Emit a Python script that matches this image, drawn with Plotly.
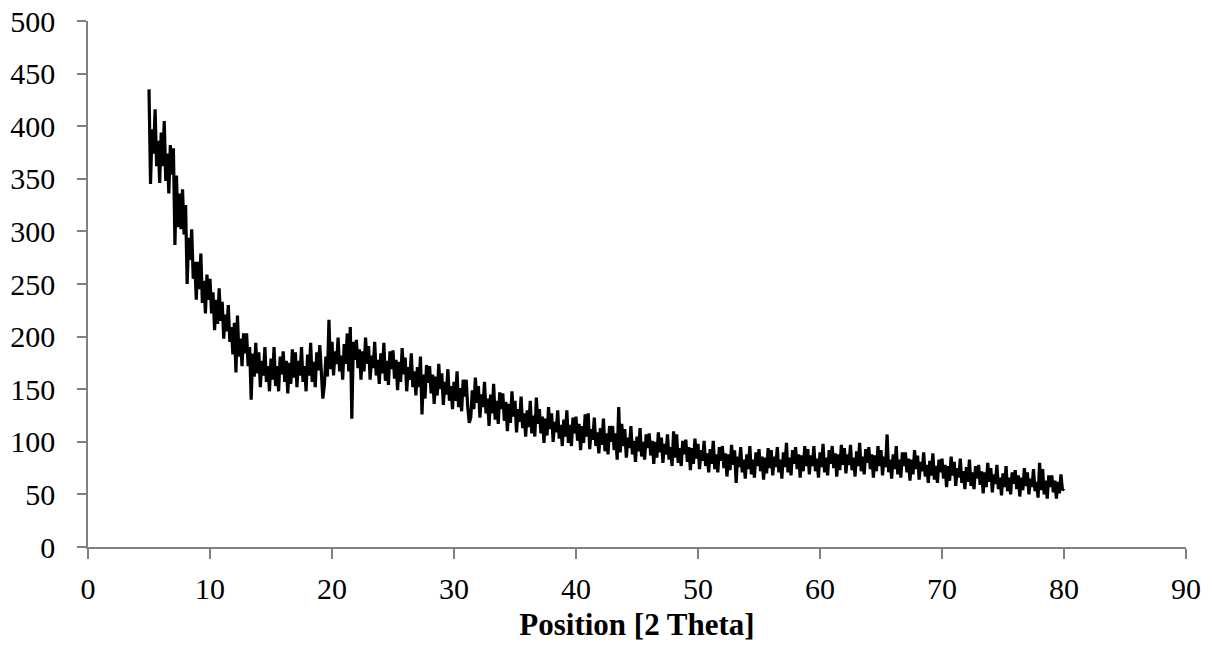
import plotly.graph_objects as go

# 2-theta grid: 5.000 to 80.000 in 0.125 steps
x_start = 5.0
x_step = 0.125

intensity = [
    # 5
    435, 345, 397, 374, 416, 362, 386, 346,
    394, 362, 405, 348, 374, 336, 382, 354,
    379, 287, 353, 304, 336, 302, 340, 297,
    325, 250, 294, 273, 302, 255, 271, 235,
    271, 245, 279, 232, 253, 222, 259, 235,
    # 10
    255, 222, 242, 206, 235, 212, 246, 215,
    233, 198, 221, 205, 230, 195, 209, 183,
    213, 166, 220, 181, 198, 172, 203, 184,
    203, 172, 190, 140, 184, 162, 194, 165,
    185, 152, 177, 163, 190, 157, 172, 148,
    # 15
    179, 159, 190, 153, 172, 148, 181, 164,
    186, 157, 177, 146, 175, 155, 188, 161,
    185, 152, 177, 163, 190, 157, 172, 148,
    183, 163, 194, 157, 176, 152, 185, 168,
    192, 165, 141, 154, 181, 162, 216, 169,
    # 20
    195, 163, 186, 174, 199, 167, 182, 159,
    193, 174, 203, 167, 209, 122, 195, 178,
    197, 170, 188, 159, 186, 167, 199, 174,
    191, 159, 182, 170, 195, 163, 178, 155,
    184, 165, 194, 158, 177, 154, 186, 169,
    # 25
    187, 160, 178, 149, 176, 157, 189, 164,
    180, 148, 171, 159, 184, 152, 167, 144,
    171, 152, 181, 126, 164, 141, 173, 156,
    172, 146, 164, 136, 162, 144, 174, 150,
    165, 135, 157, 145, 169, 139, 153, 131,
    # 30
    157, 139, 167, 133, 151, 129, 159, 143,
    159, 133, 118, 123, 149, 131, 161, 137,
    153, 123, 145, 133, 157, 127, 141, 115,
    145, 127, 155, 121, 139, 117, 147, 131,
    146, 120, 138, 110, 136, 118, 148, 124,
    # 35
    139, 109, 131, 119, 143, 113, 127, 105,
    130, 114, 139, 108, 125, 105, 142, 117,
    131, 108, 124, 99, 122, 106, 133, 112,
    127, 100, 119, 109, 130, 103, 116, 96,
    121, 105, 130, 99, 116, 96, 123, 108,
    # 40
    124, 101, 117, 92, 115, 99, 126, 105,
    127, 93, 112, 102, 123, 96, 109, 89,
    113, 97, 122, 91, 108, 88, 115, 100,
    115, 92, 108, 83, 133, 90, 117, 96,
    112, 85, 104, 94, 115, 88, 101, 81,
    # 45
    105, 91, 113, 86, 100, 83, 107, 94,
    108, 87, 101, 79, 100, 85, 109, 90,
    104, 80, 98, 88, 107, 83, 95, 77,
    110, 85, 107, 80, 94, 77, 101, 88,
    102, 81, 95, 73, 94, 79, 103, 84,
    # 50
    98, 74, 92, 82, 101, 77, 89, 71,
    93, 79, 101, 74, 88, 71, 95, 82,
    96, 75, 89, 67, 88, 73, 97, 78,
    92, 61, 86, 76, 95, 71, 83, 65,
    88, 74, 96, 69, 83, 66, 90, 77,
    # 55
    93, 72, 86, 64, 85, 70, 94, 75,
    92, 68, 86, 76, 95, 71, 83, 65,
    90, 76, 99, 71, 85, 68, 92, 79,
    95, 74, 88, 66, 87, 72, 96, 77,
    93, 69, 87, 77, 96, 72, 84, 66,
    # 60
    90, 76, 98, 71, 85, 68, 92, 79,
    96, 75, 89, 67, 88, 73, 97, 78,
    94, 70, 88, 78, 97, 73, 85, 67,
    91, 77, 99, 72, 86, 69, 93, 80,
    95, 74, 88, 66, 87, 72, 96, 77,
    # 65
    92, 68, 86, 76, 107, 71, 83, 65,
    88, 74, 96, 69, 83, 66, 90, 77,
    90, 71, 84, 63, 83, 69, 92, 74,
    87, 64, 81, 72, 90, 67, 78, 61,
    82, 68, 89, 64, 77, 61, 83, 71,
    # 70
    84, 65, 78, 57, 77, 63, 86, 68,
    81, 58, 75, 66, 84, 61, 72, 55,
    76, 62, 83, 58, 71, 55, 77, 65,
    78, 59, 72, 51, 71, 57, 80, 62,
    75, 52, 69, 60, 78, 55, 66, 49,
    # 75
    70, 57, 77, 53, 66, 50, 71, 60,
    73, 55, 68, 48, 66, 54, 75, 58,
    71, 50, 65, 57, 74, 53, 62, 47,
    80, 54, 74, 50, 63, 46, 68, 57,
    68, 52, 63, 46, 62, 51, 69, 54,
    # 80
    56,
]

two_theta = [x_start + i * x_step for i in range(len(intensity))]

x_ticks = list(range(0, 91, 10))
y_ticks = list(range(0, 501, 50))

font_family = "Liberation Serif, Times New Roman, serif"
axis_grey = "#7f7f7f"

fig = go.Figure()
fig.add_trace(go.Scatter(
    x=two_theta, y=intensity, mode="lines",
    line=dict(color="black", width=3.2),
    showlegend=False,
))

fig.update_layout(
    width=1212, height=651,
    margin=dict(l=88, r=26, t=21, b=104),
    paper_bgcolor="white", plot_bgcolor="white",
    font=dict(family=font_family, size=30, color="black"),
)
fig.update_xaxes(
    range=[0, 90], tickvals=x_ticks, ticktext=[str(v) for v in x_ticks],
    showline=True, linecolor=axis_grey, linewidth=1.5,
    ticks="outside", ticklen=10, tickcolor=axis_grey, tickwidth=1.5,
    ticklabelstandoff=4, automargin=False,
    showgrid=False, zeroline=False,
    tickfont=dict(family=font_family, size=30, color="black"),
    title=dict(text="<b>Position [2 Theta]</b>", standoff=10,
               font=dict(family=font_family, size=31, color="black")),
)
fig.update_yaxes(
    range=[0, 500], tickvals=y_ticks, ticktext=[str(v) for v in y_ticks],
    showline=True, linecolor=axis_grey, linewidth=1.5,
    ticks="outside", ticklen=9, tickcolor=axis_grey, tickwidth=1.5,
    ticklabelstandoff=16, automargin=False,
    showgrid=False, zeroline=False,
    tickfont=dict(family=font_family, size=30, color="black"),
)

fig.write_html("out.html")
